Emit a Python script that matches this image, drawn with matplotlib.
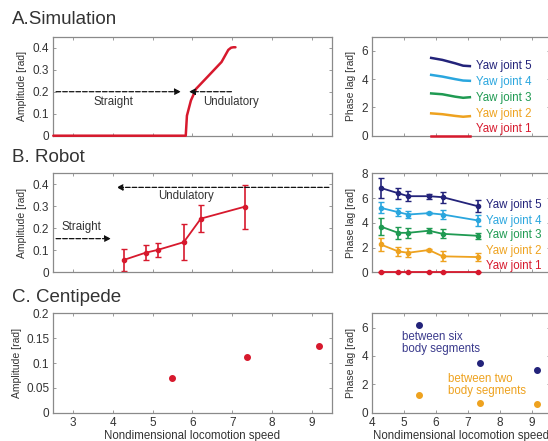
import matplotlib
matplotlib.use("Agg")
import matplotlib.pyplot as plt
import numpy as np

plt.rcParams['font.family'] = ['Liberation Sans', 'DejaVu Sans']

# ---------------- data ----------------
RED = '#d7192d'
NAVY = '#23237a'
LBLUE = '#2aa6de'
GREEN = '#1f9a52'
ORANGE = '#eea21f'
joint_colors = [RED, ORANGE, GREEN, LBLUE, NAVY]
joint_labels = ['Yaw joint 1', 'Yaw joint 2', 'Yaw joint 3', 'Yaw joint 4', 'Yaw joint 5']

# A. Simulation - amplitude
sim_speed = [2.5, 5.83, 5.86, 5.96, 6.09, 6.39, 6.73, 6.90, 6.97, 7.03, 7.08]
sim_amp = [0.0, 0.0, 0.091, 0.16, 0.213, 0.27, 0.335, 0.39, 0.40, 0.402, 0.402]

# A. Simulation - phase lag
sim_phase_speed = [5.85, 6.2, 6.6, 6.85, 7.06]
sim_phase = [
    [0.0, 0.0, 0.0, 0.0, 0.0],
    [1.58, 1.52, 1.40, 1.34, 1.38],
    [2.99, 2.93, 2.76, 2.68, 2.72],
    [4.30, 4.18, 4.00, 3.90, 3.88],
    [5.50, 5.36, 5.12, 4.95, 4.92],
]

# B. Robot
rob_speed = [4.27, 4.82, 5.13, 5.78, 6.21, 7.31]
rob_amp = [0.056, 0.089, 0.102, 0.137, 0.244, 0.298]
rob_amp_err = [0.048, 0.035, 0.033, 0.083, 0.060, 0.100]
rob_phase = [
    [0.0, 0.0, 0.0, 0.0, 0.0, 0.0],
    [2.25, 1.69, 1.58, 1.80, 1.29, 1.23],
    [3.70, 3.19, 3.19, 3.36, 3.11, 2.95],
    [5.21, 4.86, 4.67, 4.78, 4.67, 4.19],
    [6.82, 6.39, 6.15, 6.15, 6.07, 5.34],
]
rob_phase_err = [
    [0.0, 0.0, 0.0, 0.0, 0.0, 0.0],
    [0.50, 0.35, 0.35, 0.10, 0.40, 0.35],
    [0.70, 0.50, 0.40, 0.20, 0.35, 0.25],
    [0.45, 0.30, 0.30, 0.10, 0.40, 0.45],
    [0.80, 0.45, 0.40, 0.20, 0.45, 0.50],
]

# C. Centipede
cen_speed = [5.48, 7.37, 9.17]
cen_amp = [0.0696, 0.113, 0.135]
cen_phase_six = [6.21, 3.48, 2.99]
cen_phase_two = [1.22, 0.68, 0.59]

# ---------------- figure ----------------
W, H = 548, 441
fig = plt.figure(figsize=(W / 100, H / 100), dpi=100)

def frac(x0, y0, x1, y1):
    return [x0 / W, 1 - y1 / H, (x1 - x0) / W, (y1 - y0) / H]

TXT = '#333333'
SPINE = '#8a8a8a'

def style(ax, xlim, ylim, yticks, ytl, xticks, xtl=None, xlabel=None):
    ax.set_xlim(*xlim)
    ax.set_ylim(*ylim)
    ax.set_yticks(yticks)
    ax.set_yticklabels(ytl)
    ax.set_xticks(xticks)
    if xtl is None:
        ax.set_xticklabels([])
    else:
        ax.set_xticklabels(xtl)
    ax.tick_params(direction='in', top=True, right=True, length=2.5, width=0.6,
                   colors=SPINE, labelcolor=TXT, labelsize=8.5, pad=3)
    for s in ax.spines.values():
        s.set_color(SPINE)
        s.set_linewidth(0.9)
    if xlabel:
        ax.set_xlabel(xlabel, fontsize=8.3, color=TXT, labelpad=0.5)

left_x = (53.3, 331.7)
right_x = (372, 549.5)
rows = [(36.7, 135.7), (173.3, 272.3), (313.3, 412.7)]

lxt = [3, 4, 5, 6, 7, 8, 9]
rxt = [4, 5, 6, 7, 8, 9]
YL = 7.5

# ---- A left
ax = fig.add_axes(frac(left_x[0], rows[0][0], left_x[1], rows[0][1]))
ax.plot(sim_speed, sim_amp, color=RED, lw=1.8, solid_capstyle='round', clip_on=False, zorder=3)
style(ax, (2.5, 9.5), (0, 0.45), [0, 0.1, 0.2, 0.3, 0.4], ['0', '0.1', '0.2', '0.3', '0.4'], lxt)
ax.set_ylabel('Amplitude [rad]', fontsize=YL, color=TXT, labelpad=4)
ax.annotate('', xy=(5.78, 0.2), xytext=(2.5, 0.2),
            arrowprops=dict(arrowstyle='-|>', linestyle='--', color='#111111', lw=0.9, mutation_scale=9))
ax.annotate('', xy=(5.84, 0.2), xytext=(7.05, 0.2),
            arrowprops=dict(arrowstyle='-|>', linestyle='--', color='#111111', lw=0.9, mutation_scale=9))
ax.text(4.0, 0.155, 'Straight', fontsize=8.3, color=TXT, ha='center', va='center')
ax.text(6.97, 0.155, 'Undulatory', fontsize=8.3, color=TXT, ha='center', va='center')

# ---- A right
ax = fig.add_axes(frac(right_x[0], rows[0][0], right_x[1], rows[0][1]))
lab_y_a = [0.47, 1.53, 2.64, 3.81, 4.92]
for i in range(5):
    ax.plot(sim_phase_speed, sim_phase[i], color=joint_colors[i], lw=1.8, clip_on=False, zorder=3)
    ax.text(7.24, lab_y_a[i], joint_labels[i], color=joint_colors[i], fontsize=8.3, va='center', ha='left')
style(ax, (4, 9.55), (0, 7), [0, 2, 4, 6], ['0', '2', '4', '6'], rxt)
ax.set_ylabel('Phase lag [rad]', fontsize=YL, color=TXT, labelpad=4)

# ---- B left
ax = fig.add_axes(frac(left_x[0], rows[1][0], left_x[1], rows[1][1]))
ax.errorbar(rob_speed, rob_amp, yerr=rob_amp_err, color=RED, lw=1.3, marker='o', ms=3,
            capsize=2, elinewidth=1.2, capthick=1.0)
style(ax, (2.5, 9.5), (0, 0.45), [0, 0.1, 0.2, 0.3, 0.4], ['0', '0.1', '0.2', '0.3', '0.4'], lxt)
ax.set_ylabel('Amplitude [rad]', fontsize=YL, color=TXT, labelpad=4)
ax.annotate('', xy=(4.02, 0.386), xytext=(9.5, 0.386),
            arrowprops=dict(arrowstyle='-|>', linestyle='--', color='#111111', lw=0.9, mutation_scale=9))
ax.annotate('', xy=(4.02, 0.153), xytext=(2.5, 0.153),
            arrowprops=dict(arrowstyle='-|>', linestyle='--', color='#111111', lw=0.9, mutation_scale=9))
ax.text(5.83, 0.345, 'Undulatory', fontsize=8.3, color=TXT, ha='center', va='center')
ax.text(3.2, 0.205, 'Straight', fontsize=8.3, color=TXT, ha='center', va='center')

# ---- B right
ax = fig.add_axes(frac(right_x[0], rows[1][0], right_x[1], rows[1][1]))
lab_y_b = [0.51, 1.69, 2.98, 4.13, 5.4]
for i in range(5):
    eb = ax.errorbar(rob_speed, rob_phase[i], yerr=rob_phase_err[i], color=joint_colors[i], lw=1.3,
                     marker='o', ms=3, capsize=2, elinewidth=1.2, capthick=1.0, zorder=3)
    for art in eb.get_children():
        art.set_clip_on(False)
    ax.text(7.55, lab_y_b[i], joint_labels[i], color=joint_colors[i], fontsize=8.3, va='center', ha='left')
style(ax, (4, 9.55), (0, 8), [0, 2, 4, 6, 8], ['0', '2', '4', '6', '8'], rxt)
ax.set_ylabel('Phase lag [rad]', fontsize=YL, color=TXT, labelpad=4)

# ---- C left
ax = fig.add_axes(frac(left_x[0], rows[2][0], left_x[1], rows[2][1]))
ax.plot(cen_speed, cen_amp, 'o', color=RED, ms=4)
style(ax, (2.5, 9.5), (0, 0.2), [0, 0.05, 0.1, 0.15, 0.2], ['0', '0.05', '0.1', '0.15', '0.2'], lxt,
      [str(v) for v in lxt], 'Nondimensional locomotion speed')
ax.set_ylabel('Amplitude [rad]', fontsize=YL, color=TXT, labelpad=3)

# ---- C right
ax = fig.add_axes(frac(right_x[0], rows[2][0], right_x[1], rows[2][1]))
ax.plot(cen_speed, cen_phase_six, 'o', color=NAVY, ms=4)
ax.plot(cen_speed, cen_phase_two, 'o', color=ORANGE, ms=4)
ax.text(4.93, 4.9, 'between six\nbody segments', color='#3a3a8c', fontsize=8.3, va='center', ha='left',
        linespacing=1.05)
ax.text(6.38, 1.95, 'between two\nbody segments', color=ORANGE, fontsize=8.3, va='center', ha='left',
        linespacing=1.05)
style(ax, (4, 9.55), (0, 7), [0, 2, 4, 6], ['0', '2', '4', '6'], rxt,
      [str(v) for v in rxt], 'Nondimensional locomotion speed')
ax.set_ylabel('Phase lag [rad]', fontsize=YL, color=TXT, labelpad=4)

# ---- panel titles
fig.text(12 / W, 1 - 20 / H, 'A.Simulation', fontsize=13.5, color=TXT, va='center', ha='left')
fig.text(12 / W, 1 - 158 / H, 'B. Robot', fontsize=13.5, color=TXT, va='center', ha='left')
fig.text(12 / W, 1 - 297 / H, 'C. Centipede', fontsize=13.5, color=TXT, va='center', ha='left')

fig.savefig('out.png', dpi=100)
